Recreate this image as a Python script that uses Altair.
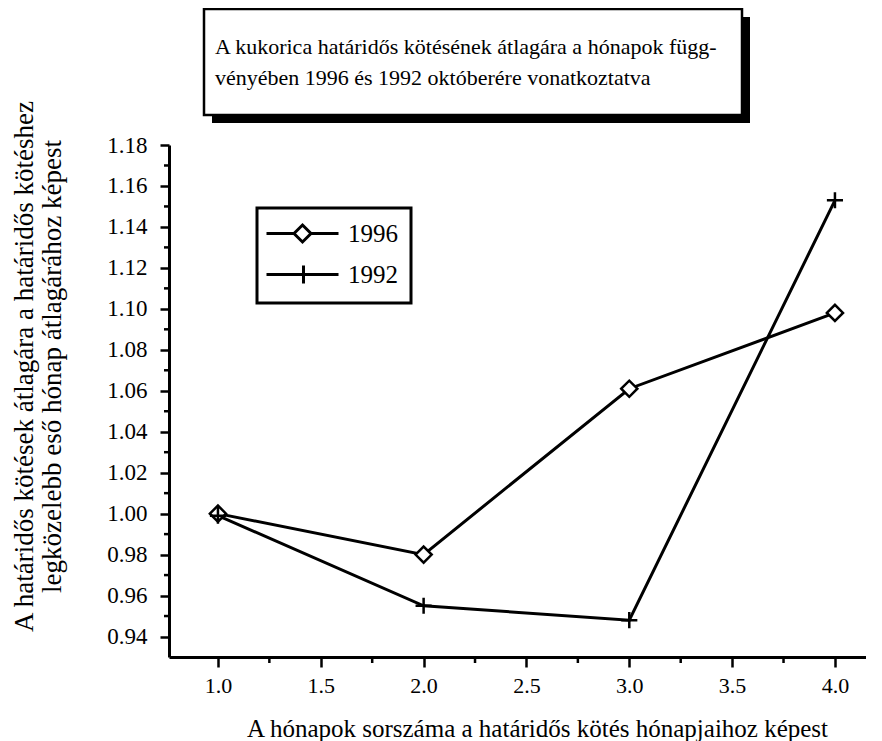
import altair as alt
import pandas as pd

# ---- data ----
months = [1.0, 2.0, 3.0, 4.0]
series_names = ["1996", "1992"]
values_1996 = [1.000, 0.980, 1.061, 1.098]
values_1992 = [0.999, 0.955, 0.948, 1.153]

title_lines = [
    "A kukorica határidős kötésének átlagára a hónapok függ-",
    "vényében 1996 és 1992 októberére vonatkoztatva",
]
y_title = [
    "A határidős kötések átlagára a határidős kötéshez",
    "legközelebb eső hónap átlagárához képest",
]
x_title = "A hónapok sorszáma a határidős kötés hónapjaihoz képest"

y_major_ticks = [0.94, 0.96, 0.98, 1.00, 1.02, 1.04, 1.06, 1.08, 1.10, 1.12,
                 1.14, 1.16, 1.18]
y_minor_ticks = [0.95, 0.97, 0.99, 1.01, 1.03, 1.05, 1.07, 1.09, 1.11, 1.13,
                 1.15, 1.17]
x_major_ticks = [1.0, 1.5, 2.0, 2.5, 3.0, 3.5, 4.0]
x_minor_ticks = [1.25, 1.75, 2.25, 2.75, 3.25, 3.75]

rows = []
for m, v in zip(months, values_1996):
    rows.append({"month": m, "value": v, "series": "1996"})
for m, v in zip(months, values_1992):
    rows.append({"month": m, "value": v, "series": "1992"})
df = pd.DataFrame(rows)

FONT = "Liberation Serif"
FS = 22

x_scale = alt.Scale(domain=[0.762, 4.151], nice=False, zero=False)
y_scale = alt.Scale(domain=[0.93, 1.18], nice=False, zero=False)

x_axis = alt.Axis(
    title=x_title,
    values=x_major_ticks,
    format=".1f",
    tickSize=10,
    labelPadding=8,
    labelFont=FONT, labelFontSize=FS,
    titleFont=FONT, titleFontSize=25, titleFontWeight="normal",
    titleX=368, titleY=71, titleAlign="center", titleBaseline="middle",
)
y_axis = alt.Axis(
    title=y_title,
    values=y_major_ticks,
    format=".2f",
    tickSize=9,
    labelPadding=13,
    labelFont=FONT, labelFontSize=23,
    titleFont=FONT, titleFontSize=27, titleFontWeight="normal", titleLineHeight=28,
    titleAngle=270, titleX=-145, titleY=221,
    titleAlign="center", titleBaseline="middle",
)

base = alt.Chart(df)

lines = base.mark_line(color="black", strokeWidth=3).encode(
    x=alt.X("month:Q", scale=x_scale, axis=x_axis),
    y=alt.Y("value:Q", scale=y_scale, axis=y_axis),
    detail="series:N",
    order="month:Q",
)

points = base.mark_point(
    filled=True, fill="white", stroke="black", strokeWidth=2.5, size=260, opacity=1
).encode(
    x="month:Q",
    y="value:Q",
    shape=alt.Shape(
        "series:N",
        scale=alt.Scale(domain=series_names, range=["diamond", "M-1,0H1M0,-1V1"]),
        legend=None,
    ),
)

# minor ticks (drawn through the scales from the tick lists)
y_minor = alt.Chart(pd.DataFrame({"value": y_minor_ticks})).mark_rule(
    color="black", strokeWidth=2.5
).encode(y="value:Q", x=alt.value(-5), x2=alt.value(0))
x_minor = alt.Chart(pd.DataFrame({"month": x_minor_ticks})).mark_rule(
    color="black", strokeWidth=2.5
).encode(x="month:Q", y=alt.value(512), y2=alt.value(518))

legend_paths = [
    "M-1.6,0H1.15M2.85,0H5.6M2,-0.85L2.85,0L2,0.85L1.15,0Z",
    "M-1.6,0H5.6M2.1,-0.9V0.9",
]
legend_layer = base.transform_calculate(
    value="datum.value + 5", series_legend="datum.series"
).mark_point(
    filled=False, color="black", strokeWidth=3, size=400, opacity=1, clip=True
).encode(
    x="month:Q",
    y="value:Q",
    shape=alt.Shape(
        "series_legend:N",
        sort=series_names,
        scale=alt.Scale(domain=series_names, range=legend_paths),
        legend=alt.Legend(
            title=None, orient="none", legendX=88, legendY=63,
            symbolSize=400, symbolOpacity=1, symbolStrokeColor="black",
            symbolStrokeWidth=3, labelOffset=53,
            labelFont=FONT, labelFontSize=25, labelColor="black",
            padding=13, rowPadding=11,
        ),
    ),
)

one = alt.Data(values=[{}])
shadow = alt.Chart(one).mark_rect(color="black").encode(
    x=alt.value(43), x2=alt.value(581), y=alt.value(-128), y2=alt.value(-22)
)
box = alt.Chart(one).mark_rect(fill="white", stroke="black", strokeWidth=2.5).encode(
    x=alt.value(35), x2=alt.value(573), y=alt.value(-136), y2=alt.value(-30)
)
title_text = alt.Chart(one).mark_text(
    align="left", baseline="middle", font=FONT, fontSize=FS, lineHeight=31, color="black"
).encode(x=alt.value(46), y=alt.value(-98), text=alt.value(title_lines))

chart = (
    alt.layer(shadow, box, title_text, y_minor, x_minor, lines, points, legend_layer)
    .resolve_scale(shape="independent")
    .resolve_legend(shape="independent")
    .properties(
        width=697, height=512,
        padding={"left": 161, "top": 137, "right": 0, "bottom": 84},
        autosize="none",
        background="white",
    )
    .configure(font=FONT)
    .configure_view(stroke=None)
    .configure_axis(
        domainColor="black", domainWidth=3, tickColor="black", tickWidth=2.5,
        labelFont=FONT, labelFontSize=FS, labelColor="black",
        titleFont=FONT, titleFontWeight="normal", titleColor="black",
        grid=False, labelOverlap=False, labelFlush=False,
    )
    .configure_legend(
        strokeColor="black", strokeWidth=3,
        labelFont=FONT, labelColor="black",
    )
)

chart.save("out.html", embed_options={"renderer": "svg", "actions": False})
